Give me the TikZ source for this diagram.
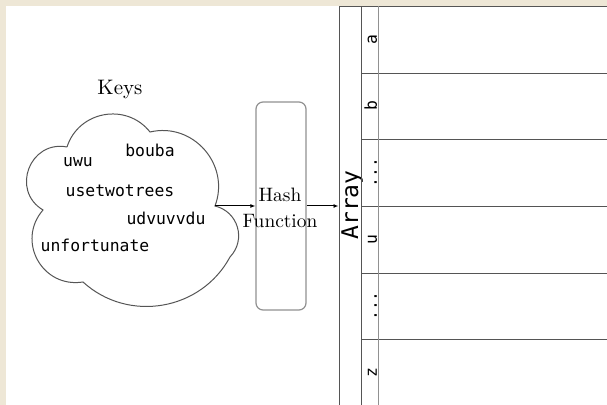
\documentclass[tikz,border=0pt]{standalone}
\usepackage{fontspec}
\setmonofont{DejaVu Sans Mono}
\usetikzlibrary{arrows.meta}
\definecolor{bgbeige}{RGB}{238,231,214}
\definecolor{linedark}{RGB}{85,85,85}
\definecolor{linegray}{RGB}{145,145,145}
\begin{document}
\begin{tikzpicture}[x=0.5pt,y=-0.5pt,
  every node/.style={inner sep=0pt},
  word/.style={font=\fontsize{8.2}{10}\ttfamily, anchor=base},
  celllbl/.style={font=\fontsize{8.2}{10}\ttfamily, rotate=90, anchor=base},
  cellbox/.style={draw=linedark, line width=0.5pt, minimum width=129.5pt, minimum height=33.33pt, anchor=north west},
  cloudline/.style={draw=linedark, line width=0.5pt},
  conn/.style={line width=0.5pt, draw=black, -{Latex[length=2.5pt,width=2pt]}},
  ]
\fill[bgbeige] (0,0) rectangle (607,405);
\fill[white] (6,6) rectangle (607,405);
\useasboundingbox (0,0) rectangle (607,405);

% keys cloud
\node[font=\fontsize{10.5}{12}\selectfont, anchor=base] (keyslbl) at (120,95) {Keys};
\coordinate (n1) at (67,147);
\coordinate (n2) at (150,132);
\coordinate (n3) at (215,206);
\coordinate (n4) at (230,257);
\coordinate (n5) at (83,282);
\coordinate (n6) at (43,210);
\draw[cloudline] (n1) to[bend left=62, looseness=1.15] (n2)
  to[bend left=62, looseness=1.15] (n3)
  to[bend left=60, looseness=1.15] (n4)
  to[bend left=52, looseness=1.05] (n5)
  to[bend left=70, looseness=1.28] (n6)
  to[bend left=80, looseness=1.44] (n1);
\node[word] (w1) at (150,157) {bouba};
\node[word] (w2) at (78,167) {uwu};
\node[word] (w3) at (120,197) {usetwotrees};
\node[word] (w4) at (166,225) {udvuvvdu};
\node[word] (w5) at (95,252) {unfortunate};

% hash function
\node[draw=linegray, rounded corners=3.5pt, line width=0.6pt, minimum width=25pt, minimum height=104pt] (hash) at (281,206) {};
\node[font=\fontsize{9.7}{13}\selectfont, align=center] (hashtxt) at (280,208) {Hash\\Function};

% array
\node[draw=linedark, line width=0.5pt, minimum width=11pt, minimum height=215pt, anchor=north] (arr) at (350,6) {};
\node[font=\fontsize{11.5}{12}\ttfamily, rotate=90, anchor=base] (arrlbl) at (358,205) {Array};
\node[cellbox] (c1) at (361,6) {};
\node[cellbox] (c2) at (361,72.67) {};
\node[cellbox] (c3) at (361,139.33) {};
\node[cellbox] (c4) at (361,206) {};
\node[cellbox] (c5) at (361,272.67) {};
\node[cellbox] (c6) at (361,339.33) {};
\draw[linegray, line width=0.5pt] (378,6) -- (378,405);
\node[celllbl] (l1) at (377,39.3) {a};
\node[celllbl] (l2) at (377,106) {b};
\node[celllbl] (l3) at (377,172.7) {...};
\node[celllbl] (l4) at (377,239.3) {u};
\node[celllbl] (l5) at (377,306) {...};
\node[celllbl] (l6) at (377,372.7) {z};

% connectors
\draw[conn] (n3) -- (n3 -| hash.west);
\draw[conn] (hash.east) -- (hash.east -| arr.west);
\end{tikzpicture}
\end{document}
